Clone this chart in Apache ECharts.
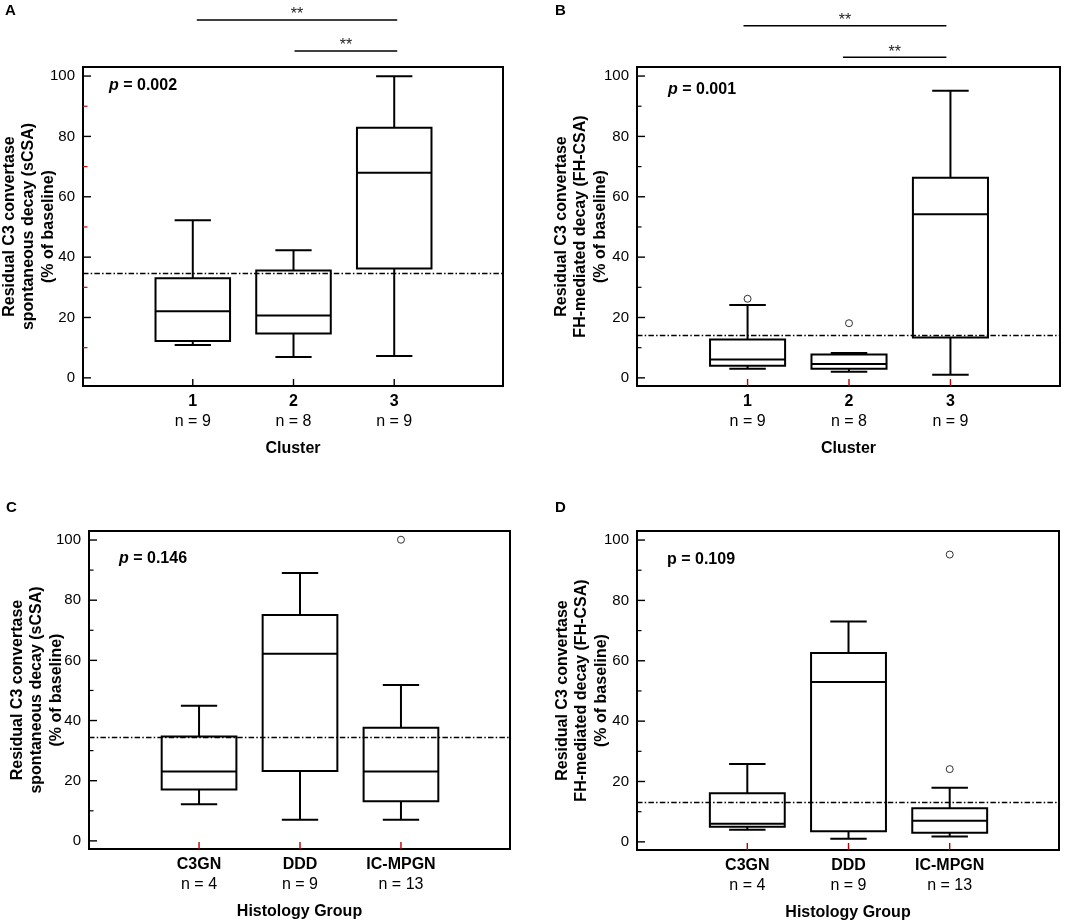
<!DOCTYPE html>
<html>
<head>
<meta charset="utf-8">
<script src="https://cdn.jsdelivr.net/npm/echarts@6/dist/echarts.min.js"></script>
<style>
    html, body { margin: 0; padding: 0; background: #fff; }
    #chart { width: 1078px; height: 924px; }
</style>
</head>
<body>
<div id="chart"></div>
<script>
// Residual C3 convertase decay, grouped by cluster and by histology

const clusterLabels = ["1", "2", "3"];
const clusterCounts = [9, 8, 9];
const histologyLabels = ["C3GN", "DDD", "IC-MPGN"];
const histologyCounts = [4, 9, 13];

const groupTicks = [1, 2, 3];
const yTicks = [0, 20, 40, 60, 80, 100];
const yMinorTicks = [10, 30, 50, 70, 90];

// each box: [min, Q1, median, Q3, max]
const sCsaByCluster = [
    [10.9, 12.2, 22.1, 33.0, 52.2],
    [6.9, 14.7, 20.7, 35.6, 42.3],
    [7.2, 36.2, 68.0, 82.9, 99.9],
];
const fhCsaByCluster = [
    [3.0, 4.0, 6.1, 12.7, 24.1],
    [2.0, 3.0, 4.6, 7.7, 8.2],
    [1.0, 13.4, 54.2, 66.3, 95.1],
];
const sCsaByHistology = [
    [12.2, 17.1, 23.1, 34.7, 44.9],
    [7.0, 23.2, 62.2, 75.1, 89.0],
    [7.0, 13.2, 23.1, 37.6, 51.8],
];
const fhCsaByHistology = [
    [4.0, 5.0, 6.0, 16.1, 25.8],
    [1.0, 3.5, 53.0, 62.6, 73.0],
    [1.8, 3.0, 7.0, 11.1, 17.9],
];

// outliers: [group (1-based), value]
const fhCsaClusterOutliers = [[1, 26.2], [2, 18.1]];
const sCsaHistologyOutliers = [[3, 100.1]];
const fhCsaHistologyOutliers = [[3, 95.2], [3, 24.1]];

// dash-dot cut-off lines
const cutoffs = [34.6, 14.0, 34.4, 13.0];

// significance bars: [from group, to group, level]
const sCsaClusterSig = [[1.04, 3.03, 118.6], [2.01, 3.03, 108.3]];
const fhCsaClusterSig = [[0.96, 2.96, 116.7], [1.94, 2.96, 106.2]];

const pValues = ["0.002", "0.001", "0.146", "0.109"];
const pItalic = [true, true, true, false];
const panelLetters = ["A", "B", "C", "D"];

const FONT = "'Liberation Sans', Arial, sans-serif";
const BOX_W = 0.74;
const CAP_W = 0.36;
const X_RANGE = [-0.09, 4.08];
const Y_RANGE = [-2.7, 103];

const sCsaName = "Residual C3 convertase\nspontaneous decay (sCSA)\n(% of baseline)";
const fhCsaName = "Residual C3 convertase\nFH-mediated decay (FH-CSA)\n(% of baseline)";

const panels = [
    {
        grid: { left: 83, top: 67, width: 420, height: 319 },
        boxes: sCsaByCluster, outliers: [], sig: sCsaClusterSig,
        cats: clusterLabels, counts: clusterCounts, xName: "Cluster",
        yName: sCsaName, nameGap: 25, tickColor: "#000", minorColor: "#c00",
        pPos: { left: 109, top: 78 }, letterPos: { left: 5, top: 3 },
    },
    {
        grid: { left: 637, top: 67, width: 423, height: 319 },
        boxes: fhCsaByCluster, outliers: fhCsaClusterOutliers, sig: fhCsaClusterSig,
        cats: clusterLabels, counts: clusterCounts, xName: "Cluster",
        yName: fhCsaName, nameGap: 27, tickColor: "#b00", minorColor: "#000",
        pPos: { left: 668, top: 82 }, letterPos: { left: 555, top: 3 },
    },
    {
        grid: { left: 89, top: 531, width: 421, height: 318 },
        boxes: sCsaByHistology, outliers: sCsaHistologyOutliers, sig: [],
        cats: histologyLabels, counts: histologyCounts, xName: "Histology Group",
        yName: sCsaName, nameGap: 23, tickColor: "#b00", minorColor: "#000",
        pPos: { left: 119, top: 551 }, letterPos: { left: 6, top: 500 },
    },
    {
        grid: { left: 637, top: 531, width: 422, height: 319 },
        boxes: fhCsaByHistology, outliers: fhCsaHistologyOutliers, sig: [],
        cats: histologyLabels, counts: histologyCounts, xName: "Histology Group",
        yName: fhCsaName, nameGap: 26, tickColor: "#b00", minorColor: "#000",
        pPos: { left: 667, top: 552 }, letterPos: { left: 555, top: 500 },
    },
];

function renderBox(params, api) {
    const x = api.value(0);
    const lo = api.value(1), q1 = api.value(2), med = api.value(3);
    const q3 = api.value(4), hi = api.value(5);
    const h = BOX_W / 2, c = CAP_W / 2;
    const style = { stroke: "#000", lineWidth: 2, fill: null };
    const seg = (x1, y1, x2, y2) => {
        const a = api.coord([x1, y1]);
        const b = api.coord([x2, y2]);
        return { type: "line", shape: { x1: a[0], y1: a[1], x2: b[0], y2: b[1] }, style };
    };
    const tl = api.coord([x - h, q3]);
    const br = api.coord([x + h, q1]);
    return {
        type: "group",
        children: [
            seg(x, q3, x, hi),
            seg(x - c, hi, x + c, hi),
            seg(x, q1, x, lo),
            seg(x - c, lo, x + c, lo),
            {
                type: "rect",
                shape: { x: tl[0], y: tl[1], width: br[0] - tl[0], height: br[1] - tl[1] },
                style: { stroke: "#000", lineWidth: 2, fill: "rgba(0,0,0,0)" },
            },
            seg(x - h, med, x + h, med),
        ],
    };
}

function renderSig(params, api) {
    const a = api.coord([api.value(0), api.value(2)]);
    const b = api.coord([api.value(1), api.value(2)]);
    return {
        type: "group",
        children: [
            {
                type: "line",
                shape: { x1: a[0], y1: a[1], x2: b[0], y2: b[1] },
                style: { stroke: "#000", lineWidth: 1.5 },
            },
            {
                type: "text",
                style: {
                    text: "**", x: (a[0] + b[0]) / 2, y: a[1] - 5,
                    align: "center", verticalAlign: "middle",
                    fontSize: 16, fontFamily: FONT, fill: "#222",
                },
            },
        ],
    };
}

// inward tick marks, placed on the frame through the axes' scales
function yTickRenderer(length, color, width) {
    return (params, api) => {
        const a = api.coord([X_RANGE[0], api.value(0)]);
        return {
            type: "line",
            shape: { x1: a[0], y1: a[1], x2: a[0] + length, y2: a[1] },
            style: { stroke: color, lineWidth: width },
        };
    };
}
function xTickRenderer(length, color, width) {
    return (params, api) => {
        const a = api.coord([api.value(0), Y_RANGE[0]]);
        return {
            type: "line",
            shape: { x1: a[0], y1: a[1], x2: a[0], y2: a[1] - length },
            style: { stroke: color, lineWidth: width },
        };
    };
}

const grid = [], xAxis = [], yAxis = [], series = [], title = [];

panels.forEach((p, i) => {
    grid.push({
        ...p.grid,
        containLabel: false,
        outerBoundsMode: "none",
        show: true,
        borderColor: "#000",
        borderWidth: 2,
        backgroundColor: "transparent",
    });

    xAxis.push({
        gridIndex: i,
        type: "value",
        min: X_RANGE[0],
        max: X_RANGE[1],
        position: "bottom",
        axisLine: { show: false, onZero: false },
        splitLine: { show: false },
        axisTick: { show: false },
        axisLabel: {
            customValues: groupTicks,
            margin: 6,
            formatter: (v) => `{b|${p.cats[v - 1]}}\n{n|n = ${p.counts[v - 1]}}`,
            rich: {
                b: { fontSize: 16, fontWeight: "bold", fontFamily: FONT, color: "#000", lineHeight: 20 },
                n: { fontSize: 16, fontFamily: FONT, color: "#000", lineHeight: 20 },
            },
        },
        name: p.xName,
        nameLocation: "middle",
        nameGap: 55,
        nameMoveOverlap: false,
        nameTextStyle: { fontSize: 16, fontWeight: "bold", fontFamily: FONT, color: "#000" },
    });

    yAxis.push({
        gridIndex: i,
        type: "value",
        min: Y_RANGE[0],
        max: Y_RANGE[1],
        position: "left",
        axisLine: { show: false, onZero: false },
        splitLine: { show: false },
        axisTick: { show: false },
        axisLabel: { customValues: yTicks, margin: 8, fontSize: 15, fontFamily: FONT, color: "#000" },
        name: p.yName,
        nameLocation: "middle",
        nameRotate: 90,
        nameGap: p.nameGap,
        nameMoveOverlap: false,
        nameTextStyle: { fontSize: 16, fontWeight: "bold", fontFamily: FONT, color: "#000", lineHeight: 19.5 },
    });

    const common = { xAxisIndex: i, yAxisIndex: i, silent: true, clip: false };

    series.push({
        ...common,
        type: "custom",
        renderItem: renderBox,
        encode: { x: 0, y: [1, 2, 3, 4, 5] },
        data: p.boxes.map((b, k) => [k + 1, ...b]),
        z: 3,
        markLine: {
            silent: true,
            symbol: "none",
            label: { show: false },
            lineStyle: { color: "#000", type: [5.5, 2.2, 1.5, 2.2], width: 1.4 },
            data: [{ yAxis: cutoffs[i] }],
        },
    });

    series.push({ ...common, type: "custom", renderItem: yTickRenderer(8, "#000", 1.4), encode: { y: 0 }, data: yTicks.map((v) => [v]), z: 5 });
    series.push({ ...common, type: "custom", renderItem: yTickRenderer(4.5, p.minorColor, 1.2), encode: { y: 0 }, data: yMinorTicks.map((v) => [v]), z: 5 });
    series.push({ ...common, type: "custom", renderItem: xTickRenderer(7, p.tickColor, 1.4), encode: { x: 0 }, data: groupTicks.map((v) => [v]), z: 5 });

    if (p.outliers.length) {
        series.push({
            ...common,
            type: "scatter",
            symbol: "circle",
            symbolSize: 7,
            itemStyle: { color: "#fff", borderColor: "#000", borderWidth: 1 },
            data: p.outliers,
            z: 4,
        });
    }

    if (p.sig.length) {
        series.push({
            ...common,
            type: "custom",
            renderItem: renderSig,
            encode: { x: [0, 1], y: 2 },
            data: p.sig,
        });
    }

    title.push({
        text: pItalic[i] ? `{i|p} = ${pValues[i]}` : `p = ${pValues[i]}`,
        ...p.pPos,
        padding: 0,
        textStyle: {
            fontSize: 16, fontWeight: "bold", fontFamily: FONT, color: "#000",
            rich: { i: { fontSize: 16, fontWeight: "bold", fontStyle: "italic", fontFamily: FONT, color: "#000" } },
        },
    });
    title.push({
        text: panelLetters[i],
        ...p.letterPos,
        padding: 0,
        textStyle: { fontSize: 15, fontWeight: "bold", fontFamily: FONT, color: "#000" },
    });
});

const chart = echarts.init(document.getElementById("chart"), null, { renderer: "canvas" });
chart.setOption({
    backgroundColor: "#fff",
    animation: false,
    title,
    grid,
    xAxis,
    yAxis,
    series,
});
</script>
</body>
</html>
